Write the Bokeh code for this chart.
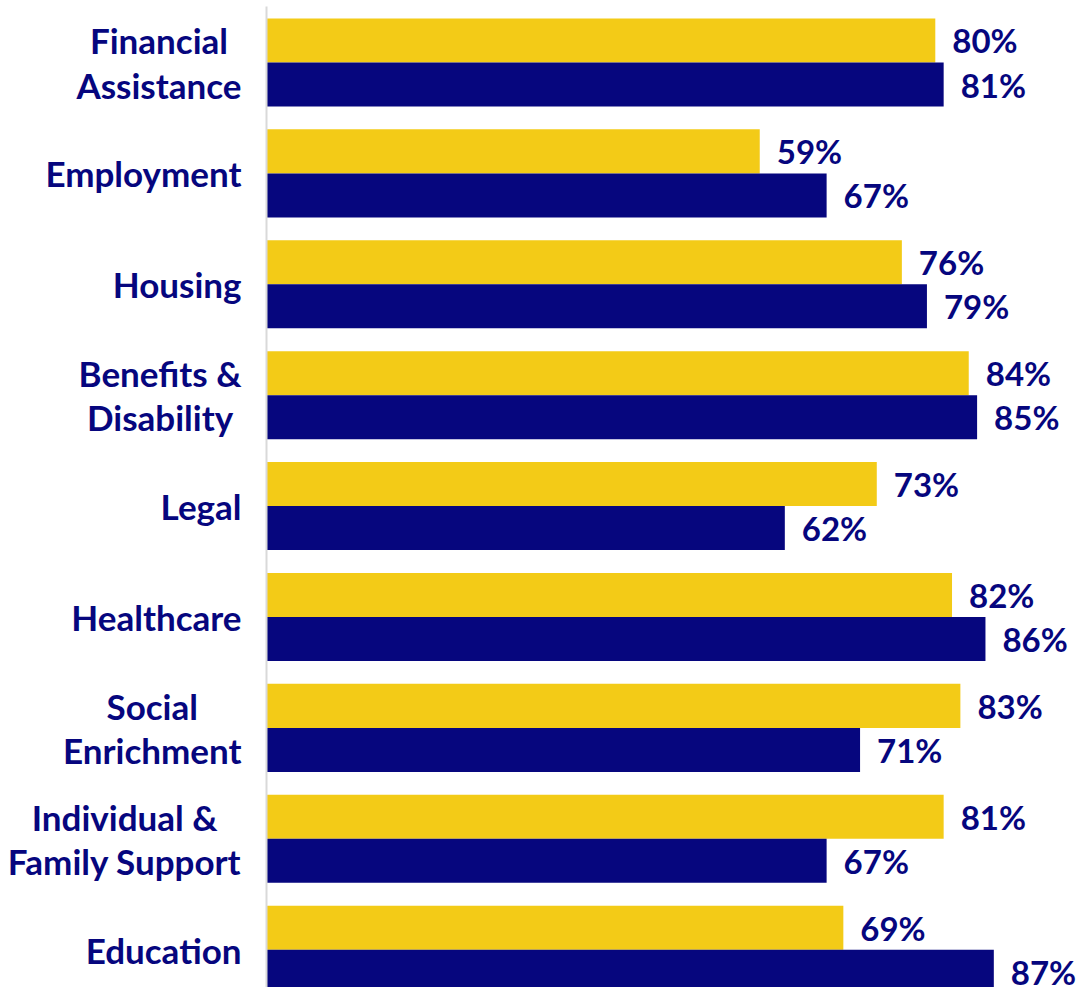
from bokeh.plotting import figure
from bokeh.models import Range1d, ColumnDataSource
from bokeh.core.properties import value
from bokeh.embed import file_html
from bokeh.resources import INLINE

categories = ["Financial\nAssistance", "Employment", "Housing", "Benefits &\nDisability",
              "Legal", "Healthcare", "Social\nEnrichment", "Individual &\nFamily Support",
              "Education"]
series_a = [80, 59, 76, 84, 73, 82, 83, 81, 69]   # yellow
series_b = [81, 67, 79, 85, 62, 86, 71, 67, 87]   # navy

YELLOW = "#F3CB17"
NAVY = "#06067E"
FONT = "Lato"

idx = list(range(len(categories)))
bar_h = 0.397
off = bar_h / 2

src_a = ColumnDataSource(dict(y=[i - off for i in idx], v=series_a,
                              lbl=[f"{v}%" for v in series_a]))
src_b = ColumnDataSource(dict(y=[i + off for i in idx], v=series_b,
                              lbl=[f"{v}%" for v in series_b]))
src_c = ColumnDataSource(dict(y=idx, x=[0] * len(idx), t=categories))

p = figure(width=1077, height=987, output_backend="svg", toolbar_location=None,
           x_range=Range1d(-31.82, 97.01), y_range=Range1d(8.341, -0.559),
           min_border=0, outline_line_color=None,
           x_axis_location=None, y_axis_location=None)
p.grid.visible = False

p.hbar(y="y", right="v", left=0, height=bar_h, source=src_a,
       fill_color=YELLOW, line_color=None)
p.hbar(y="y", right="v", left=0, height=bar_h, source=src_b,
       fill_color=NAVY, line_color=None)

p.segment(x0=[0], y0=[-0.505], x1=[0], y1=[9], line_color="#D9D9D9", line_width=2)

for src in (src_a, src_b):
    p.text(x="v", y="y", text="lbl", source=src, x_offset=17,
           text_align="left", text_baseline="middle",
           text_font=value(FONT), text_font_style="bold",
           text_font_size="33px", text_color=NAVY)

p.text(x="x", y="y", text="t", source=src_c, x_offset=-25,
       text_align="center", anchor="center_right",
       text_font=value(FONT), text_font_style="bold",
       text_font_size="35px", text_color=NAVY, text_line_height=1.06)

open("out.html", "w").write(file_html(p, INLINE))
